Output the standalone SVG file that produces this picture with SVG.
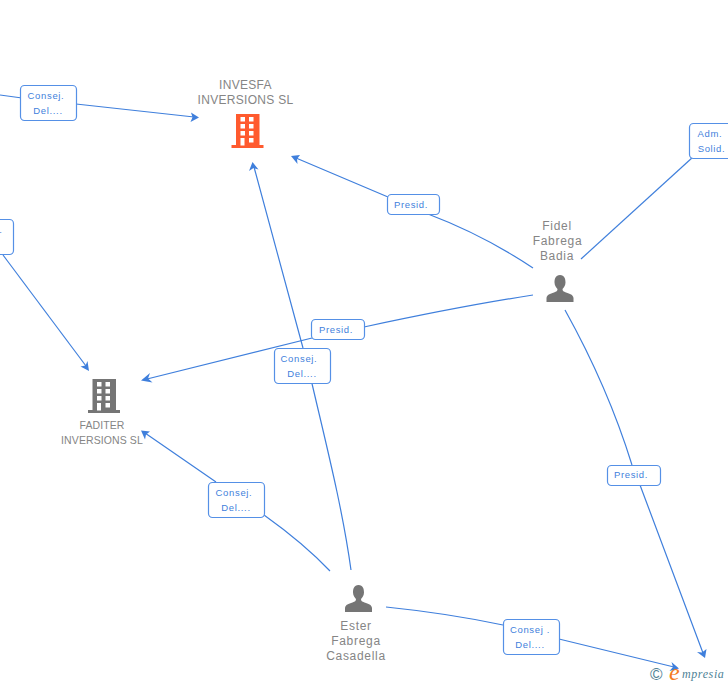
<svg xmlns="http://www.w3.org/2000/svg" width="728" height="685" viewBox="0 0 728 685">
<style>
text{font-family:"Liberation Sans",Arial,sans-serif}
.n{font-size:12px;fill:#858585;text-anchor:middle}
.l{font-size:9.5px;fill:#3f7fdc;text-anchor:middle;letter-spacing:.65px}
.b{fill:#fff;stroke:#5590e6;stroke-width:1.2}
.c{fill:none;stroke:#3f7fdc;stroke-width:1.2}
.a{fill:#3f7fdc}
</style>
<defs>
<g id="bld"><path d="M-11.500 0V-31H12V0H16V3H-16V0Z"/></g>
<g id="win" fill="#fff"><rect x="-7" y="-28" width="4.500" height="4.500"/><rect x="1.500" y="-28" width="4.500" height="4.500"/><rect x="-7" y="-21" width="4.500" height="4.500"/><rect x="1.500" y="-21" width="4.500" height="4.500"/><rect x="-7" y="-14" width="4.500" height="4.500"/><rect x="1.500" y="-14" width="4.500" height="4.500"/><rect x="-7" y="-7" width="4" height="7.500"/><rect x="1.500" y="-7" width="4.500" height="4.500"/></g>
<path id="per" d="M0-14C-4.500-14-5.500-10-5.500-6.500C-5.500-3.500-3.500-1-2.500 0C-2.500 2-3.500 2.500-6 3.500C-10 5-13 5.500-13.500 9V13H13.500V9C13 5.500 10 5 6 3.500C3.500 2.500 2.500 2 2.500 0C3.500-1 5.500-3.500 5.500-6.500C5.500-10 4.500-14 0-14Z" fill="#757575"/>
</defs>
<g id="connectors">
<path class="c" d="M0 95L22 98M76 104L194 117"/><path class="a" d="M199 117.500L191 112.500L192.500 117.300L190.500 122Z"/>
<path class="c" d="M533 268C500 246 465 228 428 214M388 197L296 158"/><path class="a" d="M291 156L300 155L297 159L297.500 164Z"/>
<path class="c" d="M351 570C342 505 325 440 310 375M303 348L254 167"/><path class="a" d="M252.500 162L249 171L253.500 168L258.500 169.500Z"/>
<path class="c" d="M533 295C475 304 415 316 364 327M312 338L147 379"/><path class="a" d="M141 380.500L150 373L148 378.500L152.500 382.500Z"/>
<path class="c" d="M3 255L86 366"/><path class="a" d="M89 371L80.500 366.500L85.500 365.500L87.500 361Z"/>
<path class="c" d="M330 571C310 550 285 530 264 515M216 482L145 433"/><path class="a" d="M141 430.500L150 431.500L146 434.500L145 439.500Z"/>
<path class="c" d="M581 259L693 157"/>
<path class="c" d="M565 310C590 355 615 410 632 465M640 485L703 653"/><path class="a" d="M705 658L697 652L702 652.500L706.500 649Z"/>
<path class="c" d="M386 607C425 611 465 617 503 625M559 639L674 667"/><path class="a" d="M679 668.500L669.500 671L673 667L671.500 662Z"/>
</g>
<g id="INVESFA"><text class="n" x="245.500" y="89" style="letter-spacing:.3px">INVESFA</text><text class="n" x="245.500" y="104" style="letter-spacing:.3px">INVERSIONS SL</text><use href="#bld" x="247.500" y="145" fill="#ff5a2e"/><use href="#win" x="247.500" y="145"/></g>
<g id="FADITER"><text class="n" x="102" y="429" style="font-size:10.500px;letter-spacing:.1px">FADITER</text><text class="n" x="102" y="444" style="font-size:10.500px;letter-spacing:.1px">INVERSIONS SL</text><use href="#bld" x="104" y="410" fill="#757575"/><use href="#win" x="104" y="410"/></g>
<g id="Fidel"><text class="n" x="557" y="230" style="letter-spacing:.7px">Fidel</text><text class="n" x="557.500" y="245" style="letter-spacing:.7px">Fabrega</text><text class="n" x="557" y="260" style="letter-spacing:.7px">Badia</text><use href="#per" x="560" y="289"/></g>
<g id="Ester"><text class="n" x="356" y="630" style="letter-spacing:.7px">Ester</text><text class="n" x="356" y="645" style="letter-spacing:.7px">Fabrega</text><text class="n" x="356" y="660" style="letter-spacing:.7px">Casadella</text><use href="#per" x="358.500" y="599"/></g>
<g id="e1"><rect class="b" x="20.500" y="85.500" width="56" height="35" rx="4"/><text class="l" x="46" y="99">Consej.</text><text class="l" x="48" y="114">Del....</text></g>
<g id="e2"><rect class="b" x="387.500" y="194.500" width="52" height="20" rx="4"/><text class="l" x="411" y="208">Presid.</text></g>
<g id="e3"><rect class="b" x="689.500" y="123.500" width="56" height="35" rx="4"/><text class="l" x="710" y="137">Adm.</text><text class="l" x="711.500" y="152">Solid.</text></g>
<g id="e4"><rect class="b" x="-42.500" y="219.500" width="56" height="35" rx="4"/><text class="l" x="1" y="233">.</text></g>
<g id="e5"><rect class="b" x="311.500" y="319.500" width="53" height="20" rx="4"/><text class="l" x="336" y="333">Presid.</text></g>
<g id="e6"><rect class="b" x="274.500" y="348.500" width="56" height="35" rx="4"/><text class="l" x="299" y="362">Consej.</text><text class="l" x="302" y="377">Del....</text></g>
<g id="e7"><rect class="b" x="208.500" y="482.500" width="56" height="35" rx="4"/><text class="l" x="234" y="496">Consej.</text><text class="l" x="236" y="511">Del....</text></g>
<g id="e8"><rect class="b" x="607.500" y="465.500" width="53" height="20" rx="4"/><text class="l" x="631" y="478">Presid.</text></g>
<g id="e9"><rect class="b" x="503.500" y="619.500" width="56" height="35" rx="4"/><text class="l" x="530" y="633">Consej .</text><text class="l" x="530" y="648">Del....</text></g>
<g id="logo"><text x="650" y="680" font-size="17" fill="#4f8296">©</text><text x="669" y="680" font-size="24" font-style="italic" fill="#f47b20" style="font-family:'Liberation Serif',serif">e</text><text x="682" y="678" font-size="12" font-style="italic" fill="#4f8296" style="font-family:'Liberation Serif',serif" letter-spacing=".6">mpresia</text></g>
</svg>
